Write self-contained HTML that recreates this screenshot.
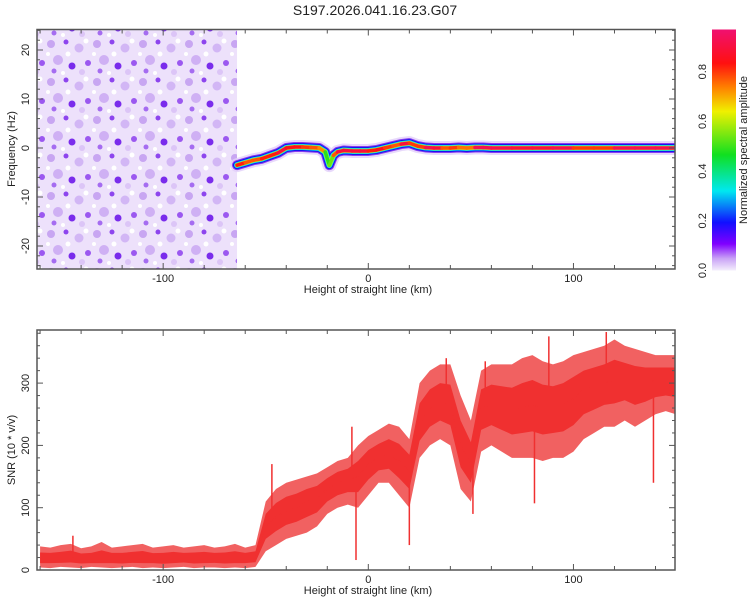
<!DOCTYPE html>
<html><head><meta charset="utf-8"><style>
html,body{margin:0;padding:0;background:#fff;}
svg{display:block;font-family:"Liberation Sans",sans-serif;}
</style></head><body>
<svg id="chart" width="750" height="600" viewBox="0 0 750 600">
<defs>
<pattern id="noisePat" width="46" height="38" patternUnits="userSpaceOnUse">
<rect width="46" height="38" fill="#ede1fb"/>
<circle cx="5" cy="6" r="4" fill="#c8a6f2"/><circle cx="20" cy="4" r="2.5" fill="#8d45ee"/>
<circle cx="33" cy="10" r="4.5" fill="#d2b6f5"/><circle cx="42" cy="25" r="3" fill="#9b58f0"/>
<circle cx="12" cy="22" r="5" fill="#cfb0f4"/><circle cx="26" cy="28" r="3.5" fill="#7a2cec"/>
<circle cx="8" cy="33" r="2.5" fill="#a56cf1"/><circle cx="36" cy="34" r="3" fill="#dcc5f7"/>
<circle cx="22" cy="16" r="2.5" fill="#ffffff"/><circle cx="40" cy="3" r="2.5" fill="#ffffff"/>
<circle cx="2" cy="16" r="2" fill="#ffffff"/><circle cx="17" cy="35" r="2" fill="#ffffff"/>
</pattern>
<linearGradient id="cbGrad" x1="0" y1="1" x2="0" y2="0">
<stop offset="0" stop-color="#f4eefc"/><stop offset="0.05" stop-color="#c9a2f6"/>
<stop offset="0.11" stop-color="#8000ff"/><stop offset="0.2" stop-color="#1010ff"/>
<stop offset="0.33" stop-color="#00e8f0"/><stop offset="0.48" stop-color="#10e020"/>
<stop offset="0.66" stop-color="#f0f000"/><stop offset="0.76" stop-color="#ff8000"/>
<stop offset="0.86" stop-color="#ff1010"/><stop offset="1" stop-color="#f01070"/>
</linearGradient>
<clipPath id="clipTop"><rect x="37" y="29.5" width="638" height="239.5"/></clipPath>
<clipPath id="clipBot"><rect x="37" y="330" width="638" height="240"/></clipPath>
</defs>
<text x="375" y="15" text-anchor="middle" font-size="14" fill="#222">S197.2026.041.16.23.G07</text>
<g id="topPanel"></g>
<g id="botPanel"></g>
<g id="cbPanel"></g>
</svg>
<script>
// ---- data ----
const ridgeKm   = [-64,-60,-56,-52,-48,-44,-40,-36,-32,-28,-24,-21,-19,-17,-15,-12,-8,-4,0,4,8,12,16,20,24,28,32,36,40,44,48,52,56,60,70,80,90,100,110,120,130,140,149];
const ridgeFreq = [-3.5,-3,-2.5,-2.2,-1.6,-1,0,0.2,0.2,0.1,0,-0.8,-3.5,-1.5,-0.8,-0.5,-0.6,-0.6,-0.6,-0.4,0,0.4,0.8,1,0.4,0.1,0,0,0,0.1,0,0.1,0.1,0,0,0,0,0,0,0,0,0,0];
const ridgeAmp  = [0.8,0.9,0.7,0.9,0.8,0.9,0.95,0.8,0.95,0.7,0.9,0.6,0.4,0.7,0.9,0.95,0.9,0.95,0.9,0.8,0.95,0.7,0.9,0.95,0.7,0.95,0.95,0.9,0.7,0.95,0.6,0.95,0.95,0.95,0.95,0.9,0.95,0.95,0.7,0.95,0.95,0.95,0.95];
const snrKm  = [-160,-155,-150,-145,-140,-135,-130,-125,-120,-115,-110,-105,-100,-95,-90,-85,-80,-75,-70,-65,-60,-55,-50,-45,-40,-35,-30,-25,-20,-15,-10,-5,0,5,10,15,20,25,30,35,40,45,50,55,60,65,70,75,80,85,90,95,100,105,110,115,120,125,130,135,140,145,150];
const snrLo  = [4,3,5,4,3,5,4,3,4,5,3,4,3,4,5,3,4,4,3,4,3,5,30,40,50,55,60,70,90,100,105,100,120,140,140,120,100,180,200,210,200,130,110,190,200,190,180,180,180,175,180,180,190,210,220,230,230,240,230,240,250,255,250];
const snrMid = [18,19,18,20,18,17,18,19,17,18,19,18,17,18,19,18,18,19,18,18,19,20,70,85,95,100,110,115,130,140,145,150,170,180,185,175,160,235,260,270,265,200,170,260,265,260,255,260,265,260,260,265,275,290,295,300,305,305,300,300,305,305,305];
const snrHi  = [38,36,40,42,35,38,45,36,38,40,42,36,38,40,36,38,40,36,38,42,36,40,110,130,140,145,150,155,165,175,180,200,215,225,235,230,210,300,320,330,330,280,240,320,330,330,330,340,345,335,330,335,345,350,355,360,370,360,355,350,345,345,345];
const spikeKm  = [-144,-47,-8,-6,20,38,51,57,81,88,116,139];
const spikeVal = [55,170,230,16,40,340,90,335,107,375,382,140];
const xTicks = [-100,0,100];
const fTicks = [-20,-10,0,10,20];
const sTicks = [0,100,200,300];
const cbTicks = [0.0,0.2,0.4,0.6,0.8];

// ---- scales ----
const X0=37,X1=675,KM0=-161.5,KM1=149.5;
const xs = k => X0 + (k-KM0)*(X1-X0)/(KM1-KM0);
const fy = f => 148 - f*4.9;
const sy = v => 570 - v*0.623;
const cy = a => 270.5 - a*248.5;
const NS="http://www.w3.org/2000/svg";
function mk(tag, attrs, parent){const e=document.createElementNS(NS,tag);for(const k in attrs)e.setAttribute(k,attrs[k]);parent.appendChild(e);return e;}
function cmap(a){
  const st=[[0,[244,238,252]],[0.11,[128,0,255]],[0.2,[16,16,255]],[0.33,[0,232,240]],[0.48,[16,224,32]],[0.66,[240,240,0]],[0.76,[255,128,0]],[0.86,[255,16,16]],[1,[240,16,112]]];
  for(let i=1;i<st.length;i++){if(a<=st[i][0]){const t=(a-st[i-1][0])/(st[i][0]-st[i-1][0]);const c=st[i-1][1].map((v,j)=>Math.round(v+(st[i][1][j]-v)*t));return 'rgb('+c.join(',')+')';}}
  return 'rgb(240,16,112)';
}

// ---- top spectrogram ----
const topG=document.getElementById('topPanel');
const tg=mk('g',{'clip-path':'url(#clipTop)'},topG);
const noise=mk('rect',{x:X0,y:29.5,width:xs(-64)-X0,height:239.5,fill:'url(#noisePat)'},tg);


const rpts=ridgeKm.map((k,i)=>xs(k)+','+fy(ridgeFreq[i])).join(' ');
const layers=[[14,'#e2d0fa',0.8],[10,'#8a3cf0',1],[8,'#1414f0',1],[6,'#00d8f0',1],[4.5,'#c0f020',1]];
layers.forEach((L,i)=>{
  const p=mk('polyline',{points:rpts,fill:'none',stroke:L[1],'stroke-width':L[0],'stroke-opacity':L[2],'stroke-linejoin':'round','stroke-linecap':'round'},tg);
  
  
});
for(let i=0;i<ridgeKm.length-1;i++){
  const a=(ridgeAmp[i]+ridgeAmp[i+1])/2;
  const s=mk('line',{x1:xs(ridgeKm[i]),y1:fy(ridgeFreq[i]),x2:xs(ridgeKm[i+1]),y2:fy(ridgeFreq[i+1]),stroke:cmap(a),'stroke-width':3.5,'stroke-linecap':'round'},tg);
  
  
}
function frame(g,y0,y1,name){
  const r=mk('rect',{x:X0,y:y0,width:X1-X0,height:y1-y0,fill:'none',stroke:'#555','stroke-width':1.5},g);
  
  
  for(let k=-160;k<=140;k+=20){
    const big=k%100===0, L=big?6:4;
    mk('line',{x1:xs(k),y1:y1,x2:xs(k),y2:y1-L,stroke:'#555','stroke-width':1},g);
    mk('line',{x1:xs(k),y1:y0,x2:xs(k),y2:y0+L,stroke:'#555','stroke-width':1},g);
  }
  xTicks.forEach(k=>{
    const t=mk('text',{x:xs(k),y:y1+13,'text-anchor':'middle','font-size':11,fill:'#222'},g);
    t.textContent=String(k);
    
    
  });
  const xt=mk('text',{x:368,y:y1+24,'text-anchor':'middle','font-size':11,fill:'#222'},g);
  xt.textContent='Height of straight line (km)';
  
  
}
frame(topG,29.5,269,'spectrogram-frame');
for(let f=-24;f<=24;f+=2){
  const big=f%10===0,L=big?6:3;
  mk('line',{x1:X0,y1:fy(f),x2:X0+L,y2:fy(f),stroke:'#555'},topG);
  mk('line',{x1:X1,y1:fy(f),x2:X1-L,y2:fy(f),stroke:'#555'},topG);
}
fTicks.forEach(f=>{
  const t=mk('text',{x:0,y:0,'text-anchor':'middle','font-size':11,fill:'#222',transform:'translate(29,'+fy(f)+') rotate(-90)'},topG);
  t.textContent=String(f);
  
  
});
const yt1=mk('text',{x:0,y:0,'text-anchor':'middle','font-size':11,fill:'#222',transform:'translate(15,149) rotate(-90)'},topG);
yt1.textContent='Frequency (Hz)';



// ---- bottom SNR ----
const botG=document.getElementById('botPanel');
const bg=mk('g',{'clip-path':'url(#clipBot)'},botG);
const up=snrKm.map((k,i)=>xs(k)+','+sy(snrHi[i]));
const dn=snrKm.map((k,i)=>xs(k)+','+sy(snrLo[i])).reverse();
const outer=mk('polygon',{points:up.concat(dn).join(' '),fill:'#f05050','fill-opacity':0.9},bg);


const up2=snrKm.map((k,i)=>xs(k)+','+sy((snrHi[i]+snrMid[i])/2));
const dn2=snrKm.map((k,i)=>xs(k)+','+sy((snrLo[i]+snrMid[i])/2)).reverse();
const inner=mk('polygon',{points:up2.concat(dn2).join(' '),fill:'#f03030'},bg);


const midL=mk('polyline',{points:snrKm.map((k,i)=>xs(k)+','+sy(snrMid[i])).join(' '),fill:'none',stroke:'#f03030','stroke-width':1},bg);


function interp(k){for(let i=1;i<snrKm.length;i++){if(k<=snrKm[i]){const t=(k-snrKm[i-1])/(snrKm[i]-snrKm[i-1]);return snrMid[i-1]+(snrMid[i]-snrMid[i-1])*t;}}return snrMid[snrMid.length-1];}
spikeKm.forEach((k,i)=>{
  const s=mk('line',{x1:xs(k),y1:sy(interp(k)),x2:xs(k),y2:sy(spikeVal[i]),stroke:'#f03030','stroke-width':1.5},bg);
  
  
});
frame(botG,330,570,'snr-frame');
for(let v=0;v<=380;v+=20){
  const big=v%100===0,L=big?6:3;
  mk('line',{x1:X0,y1:sy(v),x2:X0+L,y2:sy(v),stroke:'#555'},botG);
  mk('line',{x1:X1,y1:sy(v),x2:X1-L,y2:sy(v),stroke:'#555'},botG);
}
sTicks.forEach(v=>{
  const t=mk('text',{x:0,y:0,'text-anchor':'middle','font-size':11,fill:'#222',transform:'translate(29,'+sy(v)+') rotate(-90)'},botG);
  t.textContent=String(v);
  
  
});
const yt2=mk('text',{x:0,y:0,'text-anchor':'middle','font-size':11,fill:'#222',transform:'translate(15,450) rotate(-90)'},botG);
yt2.textContent='SNR (10 * v/v)';



// ---- colorbar ----
const cbG=document.getElementById('cbPanel');
const bar=mk('rect',{x:712,y:29.5,width:24,height:241,fill:'url(#cbGrad)'},cbG);


cbTicks.forEach(a=>{
  const t=mk('text',{x:0,y:0,'text-anchor':'middle','font-size':11,fill:'#222',transform:'translate(706,'+cy(a)+') rotate(-90)'},cbG);
  t.textContent=a.toFixed(1);
  
  
});
const ct=mk('text',{x:0,y:0,'text-anchor':'middle','font-size':11,fill:'#222',transform:'translate(747,150) rotate(-90)'},cbG);
ct.textContent='Normalized spectral amplitude';


</script>
</body></html>
